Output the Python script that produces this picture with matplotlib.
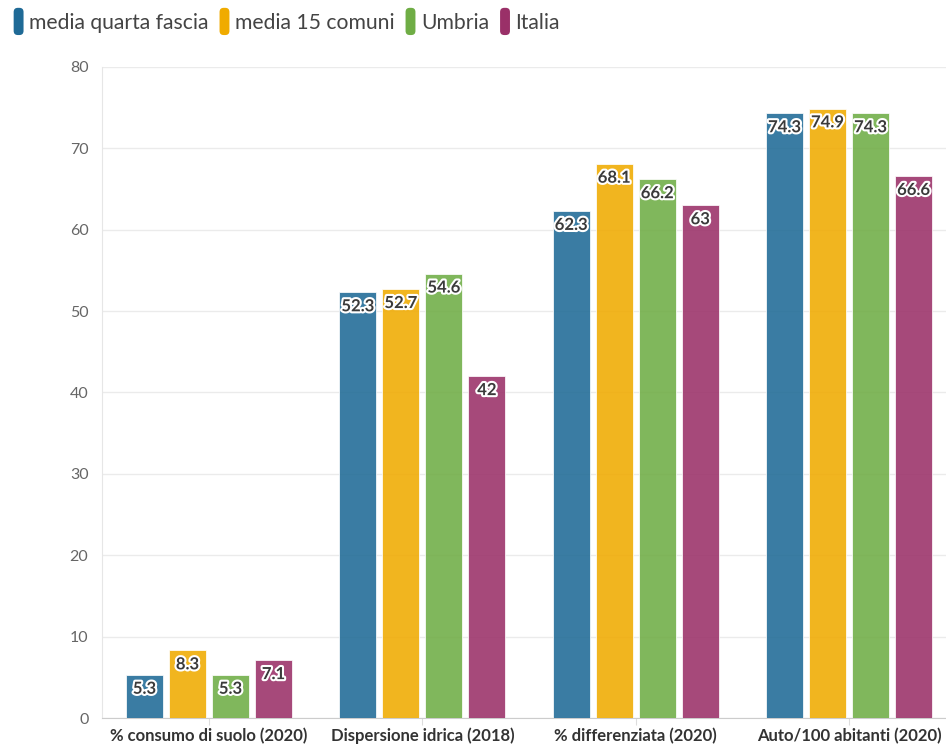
import numpy as np
import matplotlib
matplotlib.use("Agg")
import matplotlib.pyplot as plt
import matplotlib.patheffects as pe
from matplotlib.patches import FancyBboxPatch, Patch
from matplotlib.legend_handler import HandlerPatch

plt.rcParams['font.family'] = ['Lato', 'DejaVu Sans']

categories = ["% consumo di suolo (2020)", "Dispersione idrica (2018)",
              "% differenziata (2020)", "Auto/100 abitanti (2020)"]
series = ["media quarta fascia", "media 15 comuni", "Umbria", "Italia"]
quarta = [5.3, 52.3, 62.3, 74.3]
comuni15 = [8.3, 52.7, 68.1, 74.9]
umbria = [5.3, 54.6, 66.2, 74.3]
italia = [7.1, 42, 63, 66.6]
values = [quarta, comuni15, umbria, italia]
colors = ["#1f6a96", "#f0ab00", "#6fad45", "#9a3068"]
yticks = [0, 10, 20, 30, 40, 50, 60, 70, 80]


class RoundHandler(HandlerPatch):
    # rounded pill-shaped legend keys
    def create_artists(self, legend, orig_handle, xdescent, ydescent,
                       width, height, fontsize, trans):
        p = FancyBboxPatch((-xdescent + 1, -ydescent - 3), width - 2, height + 6,
                           boxstyle="round,pad=0,rounding_size=3",
                           facecolor=orig_handle.get_facecolor(),
                           edgecolor="none", transform=trans)
        return [p]


fig = plt.figure(figsize=(9.46, 7.44), dpi=100)
ax = fig.add_axes([102.3 / 946, 1 - 718 / 744, (955.7 - 102.3) / 946, (718 - 67) / 744])

x = np.arange(len(categories))
step = 0.2016
width = 0.173
halo = [pe.withStroke(linewidth=3, foreground="white")]
for i, (vals, c) in enumerate(zip(values, colors)):
    pos = x + (i - 1.5) * step
    bars = ax.bar(pos, vals, width, color=c, alpha=0.88, zorder=3,
                  edgecolor="white", linewidth=0.6)
    for b, v in zip(bars, vals):
        ax.annotate(f"{v:g}", (b.get_x() + b.get_width() / 2, v),
                    xytext=(0, -10), textcoords="offset points",
                    ha="center", va="center", fontsize=12, fontweight="bold",
                    color="#3a3a3a", path_effects=halo, zorder=4)

ax.set_xlim(-0.5, 3.5)
ax.set_ylim(0, 80)
ax.set_yticks(yticks)
ax.tick_params(axis="y", length=0, pad=10, labelsize=11.5, labelcolor="#666666")
ax.set_xticks(x)
ax.set_xticklabels(categories, fontsize=12, fontweight="bold", color="#333333")
ax.tick_params(axis="x", length=5, color="#dddddd", pad=2)
ax.grid(axis="y", color="#ebebeb", linewidth=1, zorder=0)
for s in ["top", "right"]:
    ax.spines[s].set_visible(False)
ax.spines["left"].set_color("#e6e6e6")
ax.spines["bottom"].set_color("#cccccc")

handles = [Patch(facecolor=c) for c in colors]
fig.legend(handles, series, loc="upper left", bbox_to_anchor=(-0.006, 1.008),
           ncol=4, frameon=False, fontsize=15.2, handlelength=0.6,
           handleheight=1.0, handletextpad=0.2, columnspacing=0.45,
           borderaxespad=0.45, labelcolor="#444444",
           handler_map={Patch: RoundHandler()})

fig.savefig("out.png", dpi=100)
